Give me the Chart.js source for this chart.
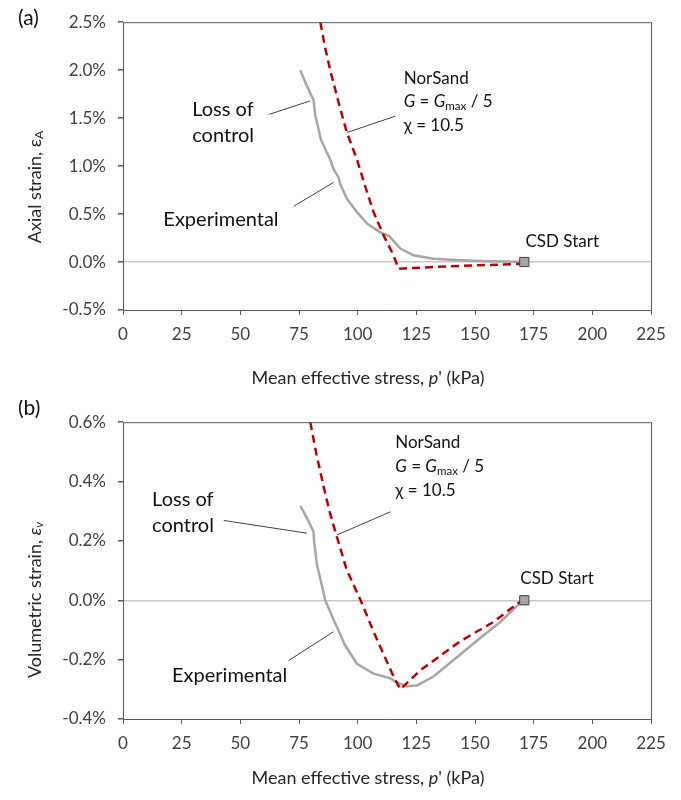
<!DOCTYPE html>
<html>
<head>
<meta charset="utf-8">
<script src="https://cdn.jsdelivr.net/npm/chart.js@4.4.1/dist/chart.umd.min.js"></script>
<style>
    html, body { margin: 0; padding: 0; background: #fff; }
    .box { position: relative; width: 681px; height: 400px; }
    canvas { display: block; }
</style>
</head>
<body>
<div class="box"><canvas id="strainA" width="681" height="400"></canvas></div>
<div class="box"><canvas id="strainV" width="681" height="400"></canvas></div>
<script>
// (a) axial strain vs p'
const expA_p = [75.5, 77.6, 79.8, 81.2, 81.6, 82.0, 83.0, 84.3, 86.9, 88.3, 89.7, 91.9, 92.6, 95.4, 99.7, 104.0, 109.6, 113.5, 116.0, 118.2, 123.8, 132.3, 142.0, 152.2, 162.0, 170.6]
const expA_e = [2.00, 1.88, 1.76, 1.69, 1.60, 1.52, 1.42, 1.28, 1.14, 1.07, 0.97, 0.88, 0.81, 0.66, 0.52, 0.40, 0.31, 0.27, 0.20, 0.14, 0.07, 0.034, 0.02, 0.01, 0.005, 0.0]
const nsA_p = [84.1, 86.0, 88.3, 91.9, 95.4, 99.7, 103.2, 106.8, 111.0, 115.3, 117.4, 133.8, 150.0, 168.6, 171.0]
const nsA_e = [2.50, 2.25, 2.00, 1.66, 1.35, 1.07, 0.79, 0.52, 0.28, 0.07, -0.07, -0.05, -0.035, -0.02, 0.0]

// (b) volumetric strain vs p'
const expB_p = [75.6, 78.5, 81.2, 81.4, 82.6, 84.8, 86.2, 89.7, 92.6, 94.5, 99.7, 106.8, 113.9, 117.5, 121.0, 125.3, 132.3, 142.3, 152.2, 160.8, 169.3, 171.0]
const expB_e = [0.318, 0.275, 0.231, 0.199, 0.122, 0.047, 0.0, -0.065, -0.115, -0.15, -0.214, -0.247, -0.263, -0.28, -0.29, -0.287, -0.257, -0.192, -0.127, -0.073, -0.008, 0.0]
const nsB_p = [79.8, 82.5, 85.5, 88.0, 90.5, 95.4, 101.1, 106.8, 111.0, 115.3, 118.2, 126.7, 143.7, 157.9, 168.6, 171.0]
const nsB_e = [0.60, 0.49, 0.383, 0.30, 0.231, 0.101, 0.003, -0.106, -0.181, -0.257, -0.30, -0.236, -0.138, -0.073, -0.008, 0.0]

// CSD start marker
const csd_p = [171]
const csd_e = [0]

const xTicks = [0, 25, 50, 75, 100, 125, 150, 175, 200, 225]

const FONT = 'Lato, "Open Sans", sans-serif'
const AXIS = '#595959'

function pts(xs, ys) {
    return xs.map((x, i) => ({ x: x, y: ys[i] }));
}

// draws a run of text pieces, some italic or subscript
function richWidth(ctx, segs, size) {
    let w = 0;
    segs.forEach(s => {
        ctx.font = (s.it ? 'italic ' : '') + (s.sub ? size * 0.68 : size) + 'px ' + FONT;
        w += ctx.measureText(s.t).width;
    });
    return w;
}
function drawRich(ctx, segs, x, y, size) {
    let cx = x;
    segs.forEach(s => {
        ctx.font = (s.it ? 'italic ' : '') + (s.sub ? size * 0.68 : size) + 'px ' + FONT;
        ctx.fillText(s.t, cx, y + (s.sub ? size * 0.25 : 0));
        cx += ctx.measureText(s.t).width;
    });
}

const notes = {
    id: 'notes',
    afterDraw(chart, args, opts) {
        const ctx = chart.ctx;
        const xs = chart.scales.x, ys = chart.scales.y;
        const a = chart.chartArea;
        ctx.save();
        // frame on top and right
        ctx.strokeStyle = AXIS;
        ctx.lineWidth = 1;
        ctx.beginPath();
        ctx.moveTo(a.left, a.top + 0.5);
        ctx.lineTo(a.right + 0.5, a.top + 0.5);
        ctx.lineTo(a.right + 0.5, a.bottom);
        ctx.stroke();

        ctx.textBaseline = 'middle';
        ctx.textAlign = 'left';
        ctx.fillStyle = '#111';
        // leaders
        ctx.strokeStyle = '#404040';
        (opts.leaders || []).forEach(l => {
            ctx.beginPath();
            ctx.moveTo(xs.getPixelForValue(l[0]), ys.getPixelForValue(l[1]));
            ctx.lineTo(xs.getPixelForValue(l[2]), ys.getPixelForValue(l[3]));
            ctx.stroke();
        });
        // labels in data units
        (opts.labels || []).forEach(lb => {
            const px = xs.getPixelForValue(lb.x);
            const py = ys.getPixelForValue(lb.y);
            lb.lines.forEach((segs, i) => drawRich(ctx, segs, px, py + i * lb.gap, lb.size));
        });
        // panel letter
        ctx.font = '21px ' + FONT;
        ctx.fillText(opts.panel, 18, opts.panelY);
        // x title
        ctx.fillStyle = '#262626';
        const xt = [{ t: 'Mean effective stress, ' }, { t: 'p', it: true }, { t: "' (kPa)" }];
        const xw = richWidth(ctx, xt, 18);
        drawRich(ctx, xt, 368 - xw / 2, opts.xTitleY, 18);
        // y title rotated
        const yw = richWidth(ctx, opts.yTitle, 18);
        ctx.translate(35, opts.yTitleY);
        ctx.rotate(-Math.PI / 2);
        drawRich(ctx, opts.yTitle, -yw / 2, 0, 18);
        ctx.restore();
    }
};

function makeChart(id, cfg) {
    return new Chart(document.getElementById(id), {
        type: 'scatter',
        data: {
            datasets: [{
                label: 'CSD Start',
                data: pts(csd_p, csd_e),
                pointStyle: 'rect',
                pointRadius: 6.5,
                backgroundColor: '#a6a6a6',
                borderColor: '#404040',
                borderWidth: 1
            }, {
                label: 'NorSand',
                data: cfg.ns,
                showLine: true,
                pointRadius: 0,
                borderColor: '#c00000',
                borderWidth: 2.5,
                borderDash: [8, 5]
            }, {
                label: 'Experimental',
                data: cfg.exp,
                showLine: true,
                pointRadius: 0,
                borderColor: '#a6a6a6',
                borderWidth: 2.5
            }]
        },
        options: {
            responsive: false,
            animation: false,
            events: [],
            layout: { padding: { top: cfg.top, right: 30, left: 0, bottom: 0 } },
            plugins: {
                legend: { display: false },
                tooltip: { enabled: false },
                notes: cfg.notes
            },
            scales: {
                x: {
                    type: 'linear',
                    min: 0,
                    max: 225,
                    afterBuildTicks: s => { s.ticks = xTicks.map(v => ({ value: v })); },
                    afterFit: s => { s.height = cfg.xh; },
                    grid: { color: 'rgba(0,0,0,0)', tickColor: AXIS, tickLength: 5 },
                    border: { color: AXIS },
                    ticks: { color: '#404040', font: { family: FONT, size: 17 }, padding: 9, maxRotation: 0 }
                },
                y: {
                    min: cfg.ymin,
                    max: cfg.ymax,
                    afterFit: s => { s.width = 123; },
                    grid: {
                        color: c => c.tick && Math.abs(c.tick.value) < 1e-9 ? '#c8c8c8' : 'rgba(0,0,0,0)',
                        lineWidth: 1.5,
                        tickColor: AXIS,
                        tickLength: 5
                    },
                    border: { color: AXIS },
                    ticks: {
                        stepSize: cfg.step,
                        color: '#404040',
                        font: { family: FONT, size: 17 },
                        padding: 12,
                        callback: v => v.toFixed(1) + '%'
                    }
                }
            }
        },
        plugins: [notes]
    });
}

const G_line = [{ t: 'G', it: true }, { t: ' = ' }, { t: 'G', it: true }, { t: 'max', sub: true }, { t: ' / 5' }];

makeChart('strainA', {
    exp: pts(expA_p, expA_e),
    ns: pts(nsA_p, nsA_e),
    top: 19, xh: 90, ymin: -0.5, ymax: 2.5, step: 0.5,
    notes: {
        panel: '(a)', panelY: 18, xTitleY: 378, yTitleY: 187,
        yTitle: [{ t: 'Axial strain, ε' }, { t: 'A', sub: true }],
        leaders: [[62.4, 1.54, 79.8, 1.68], [72.7, 0.58, 89.7, 0.83], [116.0, 1.52, 95.4, 1.35]],
        labels: [
            { x: 29.5, y: 1.594, gap: 26, size: 20, lines: [[{ t: 'Loss of' }], [{ t: 'control' }]] },
            { x: 17.2, y: 0.448, gap: 0, size: 20, lines: [[{ t: 'Experimental' }]] },
            { x: 119.6, y: 1.915, gap: 23.5, size: 17, lines: [[{ t: 'NorSand' }], G_line, [{ t: 'χ = 10.5' }]] },
            { x: 171.5, y: 0.214, gap: 0, size: 17, lines: [[{ t: 'CSD Start' }]] }
        ]
    }
});

makeChart('strainV', {
    exp: pts(expB_p, expB_e),
    ns: pts(nsB_p, nsB_e),
    top: 10, xh: 81, ymin: -0.4, ymax: 0.6, step: 0.2,
    notes: {
        panel: '(b)', panelY: 8, xTitleY: 378, yTitleY: 200,
        yTitle: [{ t: 'Volumetric strain, ' }, { t: 'ε', it: true }, { t: 'v', it: true, sub: true }],
        leaders: [[42.9, 0.269, 78.4, 0.226], [70.6, -0.203, 89.7, -0.106], [113.9, 0.298, 91.2, 0.220]],
        labels: [
            { x: 12.4, y: 0.340, gap: 26.5, size: 20, lines: [[{ t: 'Loss of' }], [{ t: 'control' }]] },
            { x: 20.9, y: -0.252, gap: 0, size: 20, lines: [[{ t: 'Experimental' }]] },
            { x: 116.0, y: 0.530, gap: 24, size: 17, lines: [[{ t: 'NorSand' }], G_line, [{ t: 'χ = 10.5' }]] },
            { x: 169.3, y: 0.074, gap: 0, size: 17, lines: [[{ t: 'CSD Start' }]] }
        ]
    }
});
</script>
</body>
</html>
